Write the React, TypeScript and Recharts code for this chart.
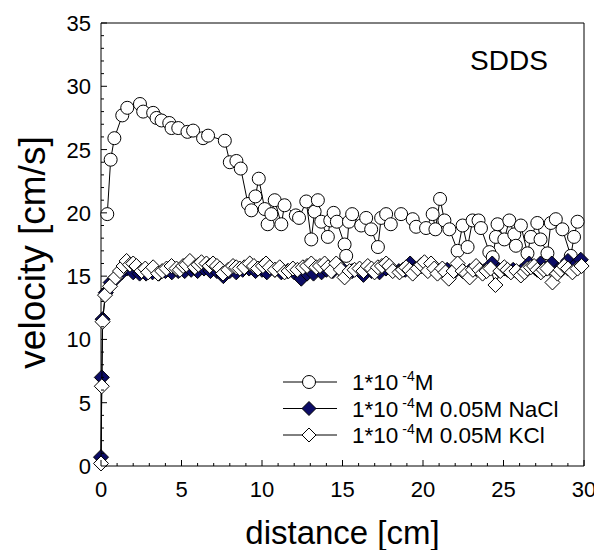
import { ScatterChart, Scatter, XAxis, YAxis, Legend, Label } from 'recharts'

// distance [cm], velocity [cm/s]
const plainPoints: [number, number][] = [
  [0.39, 19.9], [0.6, 24.2], [0.83, 25.9], [1.32, 27.7], [1.63, 28.3], [2.42, 28.6], [2.62, 28.0],
  [3.24, 27.9], [3.45, 27.5], [3.76, 27.3], [4.24, 27.1], [4.38, 26.7], [4.8, 26.7], [5.37, 26.4],
  [5.72, 26.5], [6.34, 25.9], [6.65, 26.1], [7.69, 25.7], [8.0, 24.0], [8.41, 24.1], [8.68, 23.5],
  [9.13, 20.7], [9.34, 20.2], [9.59, 21.3], [9.8, 22.7], [10.17, 20.3], [10.35, 19.1], [10.58, 19.9],
  [10.79, 21.0], [11.2, 19.1], [11.4, 20.6], [12.1, 19.8], [12.3, 19.6], [12.75, 20.9], [13.06, 17.9],
  [13.27, 20.1], [13.47, 21.0], [13.68, 19.3], [14.09, 18.1], [14.24, 19.4], [14.45, 20.0], [14.65, 19.3],
  [15.13, 17.5], [15.23, 16.6], [15.4, 19.3], [15.6, 19.9], [16.16, 19.0], [16.47, 19.6], [16.78, 18.7],
  [17.2, 17.3], [17.4, 19.6], [17.71, 19.9], [18.0, 19.1], [18.64, 19.9], [19.36, 19.5], [19.57, 18.9],
  [20.19, 18.8], [20.6, 19.9], [20.77, 18.7], [21.06, 21.1], [21.33, 19.4], [21.64, 18.7], [22.15, 17.0],
  [22.46, 19.0], [22.77, 17.3], [23.08, 19.4], [23.45, 19.4], [23.6, 18.8], [24.12, 16.9], [24.33, 16.5],
  [24.53, 18.1], [24.63, 19.1], [25.05, 17.9], [25.36, 19.4], [25.67, 18.3], [25.77, 17.4], [26.08, 19.0],
  [26.49, 16.8], [26.7, 18.1], [27.1, 19.2], [27.3, 17.9], [27.73, 16.8], [27.94, 19.2], [28.25, 19.5],
  [28.66, 18.7], [29.18, 16.6], [29.38, 18.1], [29.6, 19.3],
]

const naclPoints: [number, number][] = [
  [0, 0.7], [0.05, 7.0], [0.1, 11.6], [0.3, 13.7], [0.6, 14.5], [0.9, 14.8], [1.3, 15.3], [1.6, 15.6],
  [2.0, 15.3], [2.4, 15.2], [2.8, 15.2], [3.2, 15.3], [3.6, 15.2], [4.0, 15.4], [4.4, 15.3], [4.8, 15.4],
  [5.2, 15.4], [5.6, 15.5], [6.0, 15.4], [6.4, 15.6], [6.8, 15.4], [7.2, 15.4], [7.6, 15.0], [8.0, 15.4],
  [8.4, 15.3], [8.8, 15.5], [9.2, 15.6], [9.6, 15.4], [10.0, 15.5], [10.3, 15.3], [10.8, 15.5], [11.2, 15.3],
  [11.6, 15.4], [12.0, 15.3], [12.44, 14.8], [12.8, 15.2], [13.2, 15.2], [13.7, 15.3], [14.0, 15.5],
  [14.4, 15.4], [14.8, 15.8], [15.2, 15.1], [15.6, 15.4], [16.0, 15.5], [16.3, 15.1], [16.8, 15.4],
  [17.3, 15.3], [17.7, 15.6], [18.1, 15.5], [18.5, 15.4], [18.9, 15.5], [19.2, 16.0], [19.5, 15.5],
  [19.9, 15.8], [20.3, 15.5], [20.6, 15.8], [21.0, 15.4], [21.5, 15.5], [21.9, 15.3], [22.4, 15.5],
  [22.9, 15.4], [23.3, 15.6], [23.8, 15.4], [24.3, 16.0], [24.7, 15.5], [25.1, 15.6], [25.6, 15.5],
  [26.1, 15.4], [26.6, 16.0], [27.0, 15.6], [27.3, 16.0], [27.7, 15.6], [28.0, 16.0], [28.4, 15.5],
  [28.7, 15.7], [29.0, 16.2], [29.4, 15.8], [29.8, 16.3],
]

const kclPoints: [number, number][] = [
  [0, 0.2], [0.05, 6.3], [0.1, 11.4], [0.25, 13.5], [0.56, 14.2], [0.9, 14.9], [1.18, 15.4], [1.4, 15.8],
  [1.59, 16.2], [1.8, 15.9], [2.0, 16.0], [2.2, 15.8], [2.52, 15.4], [2.75, 15.6], [2.93, 15.3], [3.24, 15.7],
  [3.55, 15.2], [3.8, 15.4], [4.07, 15.6], [4.38, 15.8], [4.69, 15.6], [4.9, 15.5], [5.1, 15.8], [5.3, 15.9],
  [5.52, 16.2], [5.83, 15.7], [6.05, 15.9], [6.24, 16.1], [6.55, 16.0], [6.75, 15.8], [6.96, 16.0], [7.2, 15.8],
  [7.38, 15.6], [7.58, 15.2], [7.9, 15.5], [8.2, 15.8], [8.4, 15.7], [8.62, 15.6], [8.9, 15.7], [9.24, 16.0],
  [9.5, 15.8], [9.75, 15.6], [10.06, 15.8], [10.25, 16.0], [10.48, 15.7], [10.8, 15.5], [11.1, 15.7],
  [11.4, 15.3], [11.65, 15.4], [11.92, 15.6], [12.2, 15.5], [12.54, 15.7], [12.8, 15.8], [13.06, 16.0],
  [13.37, 15.7], [13.6, 15.8], [13.89, 16.0], [14.1, 15.7], [14.3, 15.4], [14.61, 16.0], [14.9, 15.5],
  [15.13, 14.9], [15.44, 15.4], [15.75, 15.5], [16.06, 15.6], [16.3, 15.4], [16.57, 15.8], [16.8, 15.6],
  [16.99, 15.3], [17.2, 15.7], [17.45, 15.8], [17.71, 16.0], [17.9, 15.8], [18.12, 15.4], [18.54, 15.3],
  [18.75, 15.5], [18.95, 15.7], [19.15, 15.5], [19.36, 15.2], [19.67, 15.6], [19.9, 15.9], [20.09, 16.1],
  [20.3, 15.4], [20.5, 16.0], [20.7, 15.6], [20.9, 15.2], [21.2, 15.6], [21.4, 15.3], [21.6, 14.8],
  [21.9, 15.4], [22.15, 16.0], [22.46, 15.4], [22.7, 15.2], [22.9, 14.9], [23.1, 15.5], [23.3, 15.8],
  [23.5, 15.5], [23.7, 15.2], [23.95, 15.4], [24.2, 15.6], [24.5, 14.3], [24.8, 15.4], [25.05, 15.7],
  [25.25, 15.5], [25.46, 15.3], [25.8, 15.4], [26.08, 15.05], [26.3, 15.3], [26.49, 15.6], [26.7, 15.7],
  [26.9, 15.8], [27.1, 15.5], [27.32, 15.3], [27.5, 15.5], [27.73, 15.6], [28.04, 14.5], [28.35, 15.2],
  [28.55, 15.5], [28.77, 15.8], [29.0, 15.6], [29.28, 15.3], [29.6, 15.6], [29.85, 15.8],
]

const xTicks = [0, 1, 2, 3, 4, 5, 6, 7, 8, 9, 10, 11, 12, 13, 14, 15, 16, 17, 18, 19, 20, 21, 22, 23, 24, 25, 26, 27, 28, 29, 30]
const yTicks = [0, 1, 2, 3, 4, 5, 6, 7, 8, 9, 10, 11, 12, 13, 14, 15, 16, 17, 18, 19, 20, 21, 22, 23, 24, 25, 26, 27, 28, 29, 30, 31, 32, 33, 34, 35]

const legendNames = ['', ' 0.05M NaCl', ' 0.05M KCl']

const NAVY = '#0c0c66'
const FONT = '"Liberation Sans", Arial, sans-serif'

const toRows = (pts: [number, number][]) => pts.map(([x, y]) => ({ x, y }))

const tickLen = (v: number) => (v % 5 === 0 ? 6 : 3)

const BottomTick = ({ x, y, payload }: any) => (
    <g>
        <line x1={x} x2={x} y1={y} y2={y - tickLen(payload.value)} stroke="#000" />
        {payload.value % 5 === 0 && (
            <text x={x} y={y + 31} textAnchor="middle" fontSize={22} fill="#000">{payload.value}</text>
        )}
    </g>
)
const TopTick = ({ x, y, payload }: any) => (
    <line x1={x} x2={x} y1={y} y2={y + tickLen(payload.value)} stroke="#000" />
)
const LeftTick = ({ x, y, payload }: any) => (
    <g>
        <line x1={x} x2={x + tickLen(payload.value)} y1={y} y2={y} stroke="#000" />
        {payload.value % 5 === 0 && (
            <text x={x - 10} y={y + 8} textAnchor="end" fontSize={22} fill="#000">{payload.value}</text>
        )}
    </g>
)
const RightTick = ({ x, y, payload }: any) => (
    <line x1={x} x2={x - tickLen(payload.value)} y1={y} y2={y} stroke="#000" />
)

const Circle = ({ cx, cy }: any) => <circle cx={cx} cy={cy} r={6.5} fill="#fff" stroke="#000" strokeWidth={1} />
const diamond = (fill: string) => ({ cx, cy }: any) => (
    <polygon
        points={`${cx},${cy - 7.5} ${cx + 7.5},${cy} ${cx},${cy + 7.5} ${cx - 7.5},${cy}`}
        fill={fill}
        stroke="#000"
        strokeWidth={1}
    />
)

const LegendBox = () => {
    const rowY = [17, 43.5, 70]
    return (
        <svg width={330} height={90} style={{ fontFamily: FONT, overflow: 'visible' }}>
            {legendNames.map((name, i) => (
                <g key={i}>
                    <line x1={13} x2={67} y1={rowY[i]} y2={rowY[i]} stroke="#000" />
                    {i === 0 && <circle cx={39} cy={rowY[i]} r={6.5} fill="#fff" stroke="#000" />}
                    {i > 0 && (
                        <polygon
                            points={`39,${rowY[i] - 7} 46,${rowY[i]} 39,${rowY[i] + 7} 32,${rowY[i]}`}
                            fill={i === 1 ? NAVY : '#fff'}
                            stroke="#000"
                        />
                    )}
                    <text x={82} y={rowY[i] + 8} fontSize={22.5} fill="#000">
                        1*10
                        <tspan dx={4} dy={-9} fontSize={14}>-4</tspan>
                        <tspan dy={9}>{'M' + name}</tspan>
                    </text>
                </g>
            ))}
        </svg>
    )
}

export default function App() {
    return (
        <div style={{ fontFamily: FONT }}>
            <ScatterChart width={594} height={542} margin={{ top: 14, right: 17, bottom: 83, left: 92 }}>
                <XAxis
                    type="number"
                    dataKey="x"
                    domain={[0, 30]}
                    ticks={xTicks}
                    interval={0}
                    height={1}
                    tickSize={0}
                    tickMargin={0}
                    tickLine={false}
                    axisLine={{ stroke: '#000' }}
                    tick={<BottomTick />}
                >
                    <Label
                        content={({ viewBox }: any) => (
                            <text x={viewBox.x + viewBox.width / 2} y={viewBox.y + 78} textAnchor="middle" fontSize={33} fill="#000">
                                distance [cm]
                            </text>
                        )}
                    />
                </XAxis>
                <XAxis
                    xAxisId="top"
                    orientation="top"
                    type="number"
                    domain={[0, 30]}
                    ticks={xTicks}
                    interval={0}
                    height={1}
                    tickSize={0}
                    tickMargin={0}
                    tickLine={false}
                    axisLine={{ stroke: '#000' }}
                    tick={<TopTick />}
                >
                    <Label
                        content={({ viewBox }: any) => (
                            <text x={viewBox.x + viewBox.width - 75} y={viewBox.y + 48} textAnchor="middle" fontSize={28} fill="#000">
                                SDDS
                            </text>
                        )}
                    />
                </XAxis>
                <YAxis
                    type="number"
                    dataKey="y"
                    domain={[0, 35]}
                    ticks={yTicks}
                    interval={0}
                    width={1}
                    tickSize={0}
                    tickMargin={0}
                    tickLine={false}
                    axisLine={{ stroke: '#000' }}
                    tick={<LeftTick />}
                >
                    <Label
                        content={({ viewBox }: any) => {
                            const lx = viewBox.x - 55
                            const ly = viewBox.y + viewBox.height / 2 + 8
                            return (
                                <text x={lx} y={ly} transform={`rotate(-90 ${lx} ${ly})`} textAnchor="middle" fontSize={37} fill="#000">
                                    velocity [cm/s]
                                </text>
                            )
                        }}
                    />
                </YAxis>
                <YAxis
                    yAxisId="right"
                    orientation="right"
                    type="number"
                    domain={[0, 35]}
                    ticks={yTicks}
                    interval={0}
                    width={1}
                    tickSize={0}
                    tickMargin={0}
                    tickLine={false}
                    axisLine={{ stroke: '#000' }}
                    tick={<RightTick />}
                />
                <Scatter
                    name="plain"
                    data={toRows(plainPoints)}
                    line={{ stroke: '#000', strokeWidth: 1 }}
                    shape={Circle}
                    isAnimationActive={false}
                />
                <Scatter
                    name="nacl"
                    data={toRows(naclPoints)}
                    line={{ stroke: '#000', strokeWidth: 1 }}
                    shape={diamond(NAVY)}
                    isAnimationActive={false}
                />
                <Scatter
                    name="kcl"
                    data={toRows(kclPoints)}
                    line={{ stroke: '#000', strokeWidth: 1 }}
                    shape={diamond('#fff')}
                    isAnimationActive={false}
                />
                <Legend
                    layout="vertical"
                    align="center"
                    verticalAlign="middle"
                    wrapperStyle={{ left: 262, top: 357, width: 330, height: 90 }}
                    content={() => <LegendBox />}
                />
            </ScatterChart>
        </div>
    )
}
